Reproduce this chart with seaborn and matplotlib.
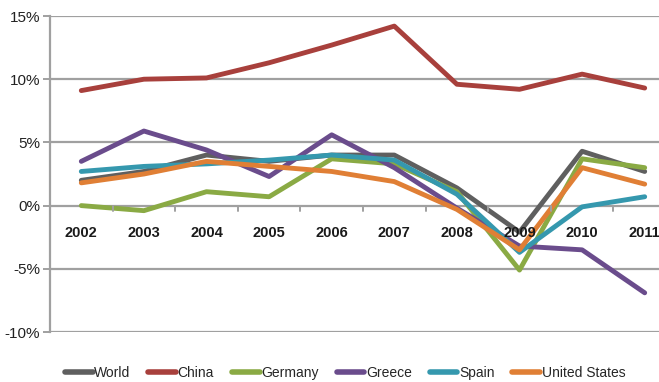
import matplotlib
matplotlib.use("Agg")
import matplotlib.pyplot as plt
import matplotlib.ticker as mticker
import seaborn as sns
import pandas as pd

years = ["2002", "2003", "2004", "2005", "2006", "2007", "2008", "2009", "2010", "2011"]
world = [2.0, 2.7, 4.0, 3.5, 4.0, 4.0, 1.4, -2.1, 4.3, 2.7]
china = [9.1, 10.0, 10.1, 11.3, 12.7, 14.2, 9.6, 9.2, 10.4, 9.3]
germany = [0.0, -0.4, 1.1, 0.7, 3.7, 3.3, 1.1, -5.1, 3.7, 3.0]
greece = [3.5, 5.9, 4.4, 2.3, 5.6, 3.0, -0.2, -3.2, -3.5, -6.9]
spain = [2.7, 3.1, 3.3, 3.6, 4.0, 3.6, 0.9, -3.7, -0.1, 0.7]
united_states = [1.8, 2.5, 3.5, 3.1, 2.7, 1.9, -0.3, -3.5, 3.0, 1.7]

series = {
    "World": world,
    "China": china,
    "Germany": germany,
    "Greece": greece,
    "Spain": spain,
    "United States": united_states,
}
colors = ["#5f5f5f", "#a8403c", "#8aaa44", "#6a4c8c", "#3598ae", "#e07f35"]

rows = []
for name, vals in series.items():
    for i, (y, v) in enumerate(zip(years, vals)):
        rows.append({"idx": i, "year": y, "country": name, "growth": v})
df = pd.DataFrame(rows)

sns.set_theme(style="white")
plt.rcParams["font.family"] = ["Liberation Sans", "DejaVu Sans"]

fig = plt.figure(figsize=(6.59, 3.82), dpi=100)
# axes extend slightly past the right edge of the canvas
ax = fig.add_axes([50 / 659, 1 - 332 / 382, 626 / 659, 316 / 382])

sns.lineplot(data=df, x="idx", y="growth", hue="country", palette=colors,
             linewidth=3.5, ax=ax, legend=True)

ax.set_xlim(-0.5, 9.5)
ax.set_ylim(-10, 15)
ax.yaxis.set_major_locator(mticker.MultipleLocator(5))
ax.yaxis.set_major_formatter(mticker.FuncFormatter(lambda v, p: f"{v:.0f}%"))
ax.grid(axis="y", color="#a0a0a0", linewidth=1.6)
ax.set_axisbelow(True)
for s in ["top", "right", "bottom"]:
    ax.spines[s].set_visible(False)
ax.spines["left"].set_color("#a0a0a0")
ax.spines["left"].set_linewidth(1.6)
ax.set_xlabel("")
ax.set_ylabel("")

# category labels sit just below the zero line
ax.set_xticks([])
for i, y in enumerate(years):
    ax.text(i, -1.65, y, ha="center", va="top", fontsize=10.5, fontweight="bold",
            color="#1a1a1a")
# small tick marks between categories on the zero line
for i in range(10):
    ax.plot([i + 0.5, i + 0.5], [0, -0.45], color="#a0a0a0", linewidth=1.4,
            clip_on=False)

ax.tick_params(axis="y", which="major", left=True, length=5, width=1.4,
               color="#a0a0a0", labelsize=11, labelcolor="#222222", pad=2)

handles, labels = ax.get_legend_handles_labels()
ax.legend(handles, labels, loc="center", bbox_to_anchor=(345 / 659, 1 - 373 / 382),
          bbox_transform=fig.transFigure, ncol=6, frameon=False, fontsize=10,
          handlelength=2.0, handletextpad=0.1, columnspacing=1.3)
for line in ax.get_legend().get_lines():
    line.set_linewidth(4)

fig.savefig("out.png", dpi=100)
